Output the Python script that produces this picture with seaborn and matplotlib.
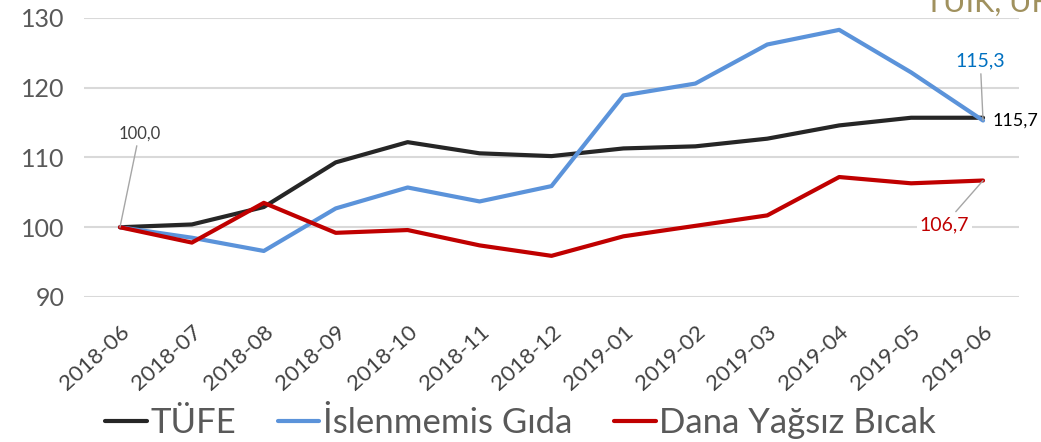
import pandas as pd
import numpy as np
import matplotlib.pyplot as plt
import seaborn as sns

# Data (index, 2018-06 = 100)
months = ['2018-06', '2018-07', '2018-08', '2018-09', '2018-10', '2018-11', '2018-12',
          '2019-01', '2019-02', '2019-03', '2019-04', '2019-05', '2019-06']
tufe = [100.0, 100.4, 102.9, 109.3, 112.2, 110.6, 110.2, 111.3, 111.6, 112.7, 114.6, 115.7, 115.7]
islenmemis = [100.0, 98.5, 96.6, 102.7, 105.7, 103.7, 105.9, 118.9, 120.6, 126.2, 128.3, 122.2, 115.3]
dana = [100.0, 97.8, 103.5, 99.2, 99.6, 97.4, 95.9, 98.7, 100.2, 101.7, 107.2, 106.3, 106.7]

series_names = ['TÜFE', 'İslenmemis Gıda', 'Dana Yağsız Bıcak']
colors = ['#262626', '#5B93DA', '#C00000']

df = pd.DataFrame({'month': months * 3,
                   'value': tufe + islenmemis + dana,
                   'series': np.repeat(series_names, len(months))})

sns.set_theme(style='white')
plt.rcParams['font.family'] = ['Lato', 'DejaVu Sans']

fig = plt.figure(figsize=(10.41, 4.42), dpi=100)
ax = fig.add_axes([84 / 1041, 1 - 297 / 442, (1019 - 84) / 1041, (297 - 18) / 442])

sns.lineplot(data=df, x='month', y='value', hue='series', palette=colors,
             linewidth=3, sort=False, ax=ax, legend=False)

ax.set_xlim(-0.5, len(months) - 0.5)
ax.set_ylim(90, 130)
ax.set_yticks([90, 100, 110, 120, 130])
ax.yaxis.grid(True, color='#D9D9D9', linewidth=1.5)
ax.set_axisbelow(True)
for s in ax.spines.values():
    s.set_visible(False)
ax.set_xlabel('')
ax.set_ylabel('')
ax.tick_params(axis='y', labelsize=18, labelcolor='#595959', length=0, pad=14)
ax.tick_params(axis='x', labelsize=16, labelcolor='#404040', length=0, pad=18)
plt.setp(ax.get_xticklabels(), rotation=42, ha='right', rotation_mode='anchor')

# data labels
ax.annotate('100,0', xy=(0, tufe[0]), xytext=(14, 62), textcoords='offset points',
            ha='center', va='bottom', fontsize=12, color='#404040',
            arrowprops=dict(arrowstyle='-', color='#A6A6A6', lw=1, shrinkA=1, shrinkB=0))
ax.annotate('115,3', xy=(12, islenmemis[-1]), xytext=(-2, 37), textcoords='offset points',
            ha='center', va='bottom', fontsize=14, color='#0070C0',
            arrowprops=dict(arrowstyle='-', color='#A6A6A6', lw=1, shrinkA=1, shrinkB=0))
ax.annotate('115,7', xy=(12, tufe[-1]), xytext=(7, -2), textcoords='offset points',
            ha='left', va='center', fontsize=13, color='black', annotation_clip=False)
ax.annotate('106,7', xy=(12, dana[-1]), xytext=(-28, -32), textcoords='offset points',
            ha='center', va='center', fontsize=14, color='#C00000',
            bbox=dict(facecolor='white', edgecolor='none', pad=2),
            arrowprops=dict(arrowstyle='-', color='#A6A6A6', lw=1, shrinkA=2, shrinkB=0))

# legend
handles = [plt.Line2D([], [], color=c, lw=3) for c in colors]
fig.legend(handles, series_names, loc='center', bbox_to_anchor=(0.5, 1 - 423 / 442),
           ncol=3, frameon=False, fontsize=25, labelcolor='#595959',
           handlelength=1.2, handletextpad=0.1, columnspacing=1.2)

# clipped source/title text at top right
fig.text(925 / 1041, 1 - 12 / 442, 'TÜİK, ÜFE', fontsize=22, color='#A0915E',
         ha='left', va='baseline')

fig.savefig('out.png', dpi=100)
